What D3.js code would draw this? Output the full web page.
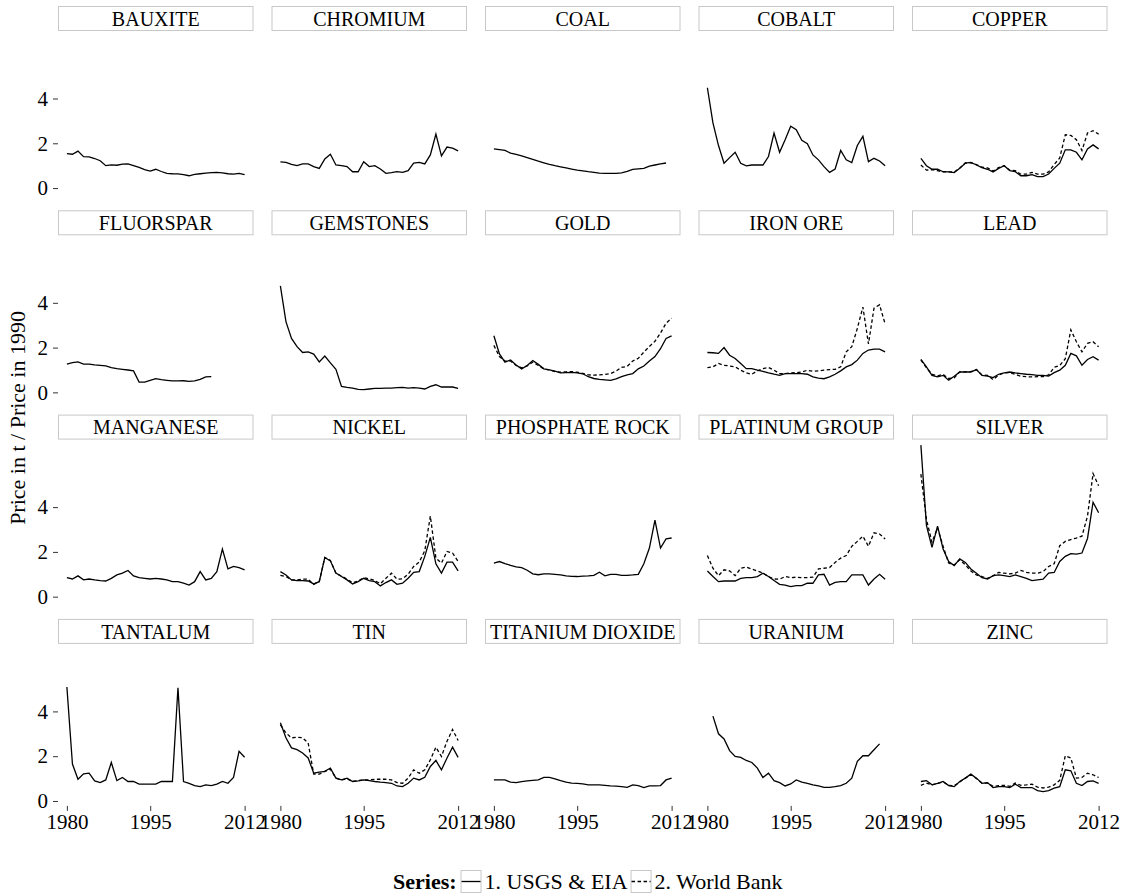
<!DOCTYPE html>
<html>
<head>
<meta charset="utf-8">
<script src="https://cdn.jsdelivr.net/npm/d3@7"></script>
<style>
body { margin: 0; background: #fff; }
</style>
</head>
<body>
<svg width="1125" height="896"></svg>
<script>
var years = [1980,1981,1982,1983,1984,1985,1986,1987,1988,1989,1990,1991,1992,1993,1994,1995,1996,
             1997,1998,1999,2000,2001,2002,2003,2004,2005,2006,2007,2008,2009,2010,2011,2012];

var minerals = ["BAUXITE","CHROMIUM","COAL","COBALT","COPPER",
                "FLUORSPAR","GEMSTONES","GOLD","IRON ORE","LEAD",
                "MANGANESE","NICKEL","PHOSPHATE ROCK","PLATINUM GROUP","SILVER",
                "TANTALUM","TIN","TITANIUM DIOXIDE","URANIUM","ZINC"];

var seriesNames = ["1. USGS & EIA", "2. World Bank"];
var xTicks = [1980, 1995, 2012];
var yTicks = [0, 2, 4];

// USGS & EIA (price / price in 1990)
var bauxite   = [1.54,1.51,1.65,1.40,1.39,1.32,1.22,1.00,1.04,1.02,1.07,1.08,1.00,0.92,0.82,0.76,0.84,0.74,0.66,0.64,0.63,0.60,0.55,0.61,0.64,0.67,0.69,0.70,0.68,0.64,0.62,0.66,0.60];
var chromium  = [1.17,1.15,1.06,1.00,1.08,1.08,0.96,0.88,1.30,1.51,1.03,1.00,0.96,0.73,0.73,1.18,0.96,1.00,0.85,0.66,0.69,0.73,0.70,0.78,1.11,1.15,1.08,1.48,2.41,1.44,1.83,1.78,1.66];
var coal      = [1.75,1.72,1.68,1.56,1.50,1.44,1.36,1.28,1.20,1.13,1.06,1.00,0.95,0.90,0.85,0.80,0.77,0.73,0.70,0.67,0.66,0.66,0.66,0.68,0.75,0.84,0.86,0.88,0.98,1.03,1.08,1.12,null];
var cobalt    = [4.48,2.91,1.90,1.11,1.36,1.60,1.11,0.99,1.03,1.03,1.03,1.41,2.46,1.60,2.16,2.76,2.61,2.13,1.98,1.48,1.26,0.96,0.70,0.85,1.68,1.26,1.14,1.90,2.31,1.18,1.33,1.21,1.00];
var copper    = [1.33,1.00,0.84,0.84,0.73,0.72,0.69,0.88,1.11,1.15,1.03,0.91,0.84,0.72,0.88,1.00,0.78,0.73,0.55,0.55,0.60,0.51,0.51,0.63,0.88,1.11,1.71,1.71,1.60,1.26,1.75,1.93,1.75];
var fluorspar = [1.26,1.33,1.36,1.26,1.26,1.23,1.21,1.18,1.11,1.06,1.03,1.00,0.96,0.46,0.46,0.54,0.61,0.57,0.54,0.51,0.51,0.52,0.49,0.51,0.58,0.69,0.70,null,null,null,null,null,null];
var gemstones = [4.76,3.16,2.41,2.04,1.78,1.81,1.71,1.36,1.62,1.32,1.03,0.27,0.22,0.19,0.13,0.12,0.15,0.18,0.18,0.19,0.19,0.21,0.22,0.19,0.21,0.19,0.15,0.27,0.34,0.24,0.24,0.24,0.18];
var gold      = [2.53,1.72,1.35,1.45,1.22,1.05,1.20,1.42,1.25,1.05,1.00,0.95,0.87,0.88,0.89,0.87,0.83,0.70,0.62,0.58,0.56,0.54,0.60,0.70,0.78,0.84,1.05,1.18,1.40,1.60,1.95,2.41,2.52];
var ironOre   = [1.78,1.77,1.74,2.00,1.66,1.51,1.29,1.06,1.06,0.99,0.94,0.87,0.81,0.76,0.84,0.84,0.84,0.84,0.81,0.69,0.64,0.61,0.69,0.81,0.96,1.14,1.24,1.44,1.74,1.89,1.93,1.93,1.81];
var lead      = [1.47,1.14,0.76,0.69,0.76,0.54,0.72,0.91,0.91,0.91,1.02,0.76,0.73,0.66,0.81,0.87,0.91,0.87,0.84,0.81,0.79,0.76,0.76,0.73,0.88,0.99,1.21,1.74,1.63,1.21,1.47,1.59,1.44];
var manganese = [0.85,0.79,0.93,0.75,0.79,0.75,0.72,0.70,0.82,0.97,1.05,1.17,0.93,0.85,0.82,0.79,0.82,0.79,0.75,0.67,0.67,0.60,0.52,0.67,1.12,0.75,0.82,1.12,2.13,1.24,1.35,1.30,1.20];
var nickel    = [1.12,0.97,0.75,0.72,0.72,0.70,0.57,0.67,1.75,1.60,1.05,0.90,0.75,0.57,0.67,0.82,0.72,0.67,0.48,0.63,0.75,0.55,0.60,0.82,1.09,1.12,1.80,2.65,1.47,1.05,1.54,1.54,1.15];
var phosphate = [1.50,1.57,1.48,1.40,1.33,1.30,1.18,1.02,0.98,1.02,1.02,1.00,0.97,0.93,0.91,0.90,0.92,0.93,0.95,1.09,0.93,1.00,1.00,0.95,0.95,0.97,1.00,1.47,2.17,3.42,2.17,2.58,2.62];
var platinum  = [1.15,0.90,0.67,0.70,0.70,0.70,0.82,0.85,0.85,0.90,1.05,0.90,0.72,0.55,0.52,0.45,0.49,0.49,0.60,0.60,0.97,1.00,0.52,0.64,0.67,0.67,0.97,0.97,0.97,0.52,0.79,1.00,0.78];
var silver    = [6.77,3.18,2.20,3.15,2.13,1.57,1.39,1.69,1.53,1.24,1.05,0.85,0.79,0.94,0.97,0.94,0.90,0.97,0.90,0.82,0.72,0.75,0.78,1.05,1.08,1.57,1.80,1.92,1.90,1.95,2.60,4.22,3.75];
var tantalum  = [5.09,1.65,0.97,1.21,1.24,0.90,0.82,0.94,1.72,0.91,1.05,0.87,0.87,0.75,0.75,0.75,0.75,0.87,0.87,0.87,5.06,0.87,0.79,0.69,0.64,0.72,0.69,0.75,0.87,0.79,1.05,2.22,1.95];
var tin       = [3.49,2.82,2.37,2.29,2.14,1.92,1.24,1.29,1.32,1.47,1.02,0.94,1.02,0.87,0.90,0.94,0.91,0.87,0.84,0.82,0.79,0.67,0.64,0.79,1.02,0.94,1.06,1.54,1.81,1.39,1.92,2.40,1.95];
var titanium  = [0.94,0.94,0.94,0.84,0.82,0.86,0.90,0.92,0.94,1.05,1.05,0.99,0.91,0.84,0.80,0.79,0.76,0.72,0.72,0.72,0.70,0.67,0.66,0.64,0.61,0.72,0.69,0.60,0.67,0.67,0.69,0.94,1.02];
var uranium   = [null,3.79,3.00,2.77,2.25,1.99,1.95,1.81,1.72,1.47,1.05,1.24,0.91,0.82,0.67,0.76,0.94,0.84,0.79,0.72,0.67,0.61,0.61,0.64,0.69,0.79,1.02,1.77,2.02,2.02,2.29,2.55,null];
var zinc      = [0.87,0.91,0.72,0.79,0.87,0.69,0.64,0.87,1.02,1.20,1.02,0.79,0.82,0.60,0.64,0.64,0.60,0.75,0.60,0.60,0.60,0.46,0.42,0.46,0.57,0.64,1.39,1.35,0.79,0.69,0.87,0.90,0.79];

// World Bank
var copperWB   = [1.03,0.80,0.82,0.78,0.72,0.72,0.72,0.90,1.12,1.13,1.05,0.93,0.90,0.76,0.92,1.00,0.80,0.78,0.62,0.62,0.70,0.62,0.62,0.72,1.05,1.35,2.38,2.35,2.16,1.68,2.46,2.56,2.41];
var goldWB     = [2.10,1.60,1.40,1.40,1.20,1.10,1.18,1.35,1.20,1.05,1.00,0.93,0.90,0.92,0.93,0.90,0.85,0.78,0.77,0.78,0.80,0.84,0.95,1.12,1.16,1.40,1.52,1.80,2.05,2.28,2.65,3.09,3.31];
var ironOreWB  = [1.11,1.14,1.29,1.21,1.18,1.14,0.99,0.87,0.81,0.96,1.06,1.11,0.99,0.84,0.84,0.87,0.88,0.91,0.99,0.94,0.96,0.99,1.02,1.03,1.14,1.81,2.04,2.86,3.81,2.16,3.76,3.91,3.06];
var leadWB     = [1.45,1.10,0.80,0.74,0.80,0.62,0.65,0.92,0.92,0.93,1.02,0.78,0.76,0.57,0.78,0.87,0.88,0.80,0.72,0.70,0.69,0.70,0.70,0.78,1.12,1.20,1.50,2.79,2.26,1.81,2.19,2.26,2.04];
var nickelWB   = [0.95,0.90,0.75,0.75,0.78,0.78,0.55,0.68,1.75,1.62,1.05,0.92,0.78,0.62,0.70,0.85,0.80,0.72,0.58,0.82,1.05,0.78,0.80,1.00,1.35,1.55,2.05,3.60,1.72,1.50,2.02,1.95,1.57];
var platinumWB = [1.84,1.27,0.94,1.20,1.15,0.94,1.27,1.32,1.23,1.15,1.05,0.90,0.79,0.78,0.90,0.85,0.87,0.85,0.85,0.87,1.24,1.27,1.30,1.53,1.72,1.84,2.25,2.47,2.70,2.25,2.85,2.80,2.58];
var silverWB   = [5.47,3.45,2.43,3.07,2.25,1.50,1.42,1.65,1.42,1.15,0.97,0.90,0.82,0.93,1.08,1.05,1.02,1.05,1.17,1.09,1.05,1.05,1.12,1.35,1.47,2.28,2.47,2.55,2.62,2.70,3.60,5.50,4.95];
var tinWB      = [3.40,3.04,2.82,2.85,2.82,2.59,1.20,1.20,1.32,1.42,1.02,0.94,0.99,0.87,0.91,0.94,0.94,0.97,0.97,0.97,0.94,0.82,0.79,1.02,1.39,1.24,1.39,1.84,2.40,1.99,2.67,3.19,2.70];
var zincWB     = [0.70,0.80,0.72,0.78,0.85,0.70,0.68,0.85,1.02,1.18,1.00,0.80,0.80,0.65,0.68,0.70,0.65,0.80,0.70,0.72,0.75,0.62,0.58,0.62,0.72,0.92,2.02,1.92,1.02,1.05,1.24,1.17,1.05];

var usgs = {
  "BAUXITE": bauxite, "CHROMIUM": chromium, "COAL": coal, "COBALT": cobalt, "COPPER": copper,
  "FLUORSPAR": fluorspar, "GEMSTONES": gemstones, "GOLD": gold, "IRON ORE": ironOre, "LEAD": lead,
  "MANGANESE": manganese, "NICKEL": nickel, "PHOSPHATE ROCK": phosphate, "PLATINUM GROUP": platinum, "SILVER": silver,
  "TANTALUM": tantalum, "TIN": tin, "TITANIUM DIOXIDE": titanium, "URANIUM": uranium, "ZINC": zinc
};
var worldBank = {
  "COPPER": copperWB, "GOLD": goldWB, "IRON ORE": ironOreWB, "LEAD": leadWB, "NICKEL": nickelWB,
  "PLATINUM GROUP": platinumWB, "SILVER": silverWB, "TIN": tinWB, "ZINC": zincWB
};

var serif = "'Liberation Serif'";
var svg = d3.select("svg").attr("font-family", serif);

var ncol = 5, nrow = 4,
    left0 = 58, panelW = 195.5, gapX = 18,
    top0 = 6, rowStep = 204.3, stripH = 24, panelH = 163;

var x = d3.scaleLinear().domain([1978.4, 2013.6]).range([0, panelW]);
var y = d3.scaleLinear().domain([-0.22, 7.06]).range([panelH, 0]);

var line = d3.line()
  .defined(function(d) { return d[1] != null; })
  .x(function(d) { return x(d[0]); })
  .y(function(d) { return y(d[1]); });

function pairs(vals) {
  return years.map(function(yr, i) { return [yr, vals[i]]; });
}

minerals.forEach(function(m, i) {
  var col = i % ncol, row = Math.floor(i / ncol);
  var g = svg.append("g")
    .attr("transform", "translate(" + [left0 + col * (panelW + gapX), top0 + row * rowStep] + ")");

  // strip
  g.append("rect")
    .attr("x", 0.5).attr("y", 0.5)
    .attr("width", panelW - 1).attr("height", stripH)
    .attr("fill", "#fff").attr("stroke", "#c8c8c8").attr("stroke-width", 1);
  g.append("text")
    .attr("x", panelW / 2).attr("y", stripH / 2 + 1)
    .attr("dy", "0.34em")
    .attr("text-anchor", "middle")
    .attr("font-family", serif)
    .attr("font-size", 20)
    .text(m);

  var p = g.append("g").attr("transform", "translate(0," + stripH + ")");

  if (worldBank[m]) {
    p.append("path")
      .attr("d", line(pairs(worldBank[m])))
      .attr("fill", "none").attr("stroke", "#000")
      .attr("stroke-width", 1.3).attr("stroke-dasharray", "3.5,2.5");
  }
  p.append("path")
    .attr("d", line(pairs(usgs[m])))
    .attr("fill", "none").attr("stroke", "#000")
    .attr("stroke-width", 1.3);

  if (col == 0) {
    var ya = p.append("g").call(d3.axisLeft(y).tickValues(yTicks).tickSize(5).tickPadding(5));
    ya.attr("font-family", serif).attr("font-size", 21);
    ya.select(".domain").remove();
    ya.selectAll("line").attr("stroke", "#333");
    ya.selectAll("text").attr("fill", "#000");
  }
  if (row == nrow - 1) {
    var xa = p.append("g").attr("transform", "translate(0," + panelH + ")")
      .call(d3.axisBottom(x).tickValues(xTicks).tickFormat(d3.format("d")).tickSize(5).tickPadding(3));
    xa.attr("font-family", serif).attr("font-size", 21);
    xa.select(".domain").remove();
    xa.selectAll("line").attr("stroke", "#333");
    xa.selectAll("text").attr("fill", "#000");
  }
});

// y title
svg.append("text")
  .attr("transform", "translate(25," + (top0 + stripH + (3 * rowStep + panelH) / 2) + ") rotate(-90)")
  .attr("text-anchor", "middle")
  .attr("font-family", serif)
  .attr("font-size", 22)
  .text("Price in t / Price in 1990");

// legend
var leg = svg.append("g").attr("transform", "translate(393,889)")
  .attr("font-family", serif).attr("font-size", 22);
var lx = 0;
var t0 = leg.append("text").attr("x", lx).attr("font-weight", "bold").text("Series:");
lx += t0.node().getComputedTextLength() + 4;
seriesNames.forEach(function(s, i) {
  leg.append("rect")
    .attr("x", lx + 0.5).attr("y", -18.5)
    .attr("width", 20).attr("height", 22)
    .attr("fill", "#fff").attr("stroke", "#c8c8c8");
  leg.append("line")
    .attr("x1", lx + 1).attr("x2", lx + 20)
    .attr("y1", -7.5).attr("y2", -7.5)
    .attr("stroke", "#000").attr("stroke-width", 1.3)
    .attr("stroke-dasharray", i == 1 ? "3.5,2.5" : null);
  lx += 24;
  var t = leg.append("text").attr("x", lx).text(s);
  lx += t.node().getComputedTextLength() + 3;
});
</script>
</body>
</html>
